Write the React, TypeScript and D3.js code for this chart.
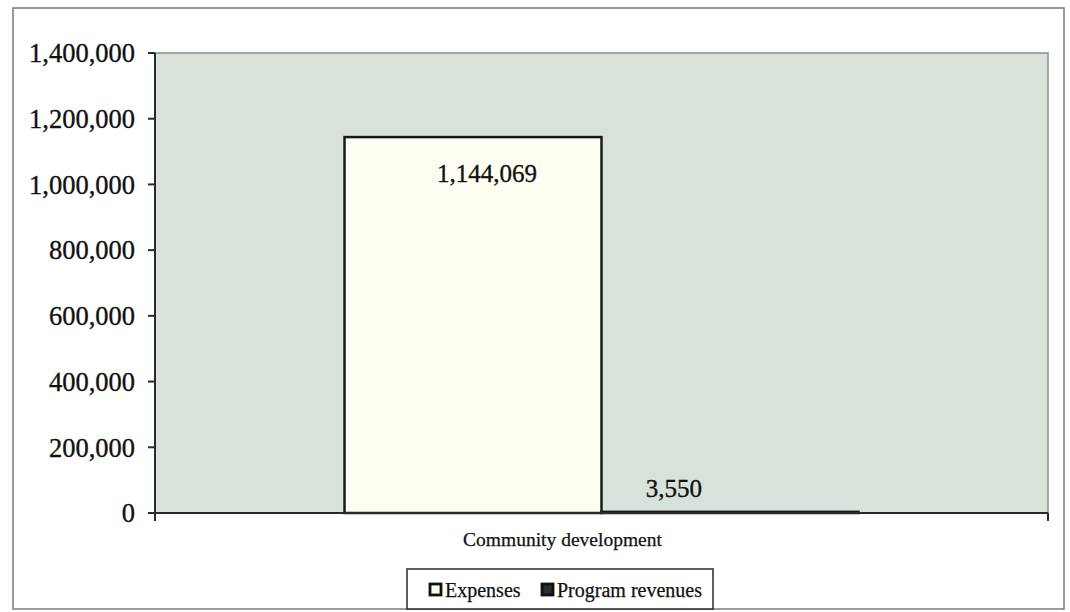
import * as d3 from "d3";

// values
const categories = ["Community development"];
const seriesNames = ["Expenses", "Program revenues"];
const expenses = [1144069];
const programRevenues = [3550];
const yTicks = [0, 200000, 400000, 600000, 800000, 1000000, 1200000, 1400000];

const W = 1070;
const H = 612;
const plot = { left: 155, top: 53, right: 1048, bottom: 513 };
const fonts = "'Liberation Serif', 'Times New Roman', serif";

const seriesFill = ["#fefef3", "#2e2e2e"];
// Excel-ish gap width between category groups
const gapWidth = 1.475;

// the scan's text is a bit heavier than a clean render
const ink = { fill: "#111", stroke: "#111", strokeWidth: 0.35 };

export default function App() {
  const y = d3
    .scaleLinear()
    .domain([0, d3.max(yTicks)!])
    .range([plot.bottom, plot.top]);

  const x0 = d3
    .scaleBand<string>()
    .domain(categories)
    .range([plot.left, plot.right]);

  const x1 = d3
    .scaleBand<string>()
    .domain(seriesNames)
    .range([0, x0.bandwidth()])
    .paddingInner(0)
    .paddingOuter(gapWidth / 2);

  const fmt = d3.format(",");
  const values = [expenses, programRevenues];

  // label nudges to match the scan (labels sit a bit off-centre there)
  const labelNudge = [14, -56];

  return (
    <svg
      width={W}
      height={H}
      style={{ position: "absolute", left: 0, top: 0, background: "#fff" }}
      fontFamily={fonts}
    >
      {/* chart frame */}
      <rect x={13} y={8} width={1051} height={601} fill="#fff" stroke="#7a7a7a" strokeWidth={1.5} />

      {/* plot area */}
      <rect
        x={plot.left}
        y={plot.top}
        width={plot.right - plot.left}
        height={plot.bottom - plot.top}
        fill="#d9e1db"
        stroke="#8c8c8c"
        strokeWidth={1.5}
      />

      {/* bars */}
      {categories.map((c, ci) =>
        seriesNames.map((s, si) => {
          const v = values[si][ci];
          const bx = x0(c)! + x1(s)!;
          const by = y(v);
          return (
            <rect
              key={c + s}
              x={bx}
              y={by}
              width={x1.bandwidth()}
              height={Math.max(plot.bottom - by, 1)}
              fill={seriesFill[si]}
              stroke="#1a1a1a"
              strokeWidth={2.5}
            />
          );
        })
      )}

      {/* data labels: inside end if the bar is tall, else above */}
      {categories.map((c, ci) =>
        seriesNames.map((s, si) => {
          const v = values[si][ci];
          const by = y(v);
          const tall = plot.bottom - by > 60;
          return (
            <text
              key={"l" + c + s}
              x={x0(c)! + x1(s)! + x1.bandwidth() / 2 + labelNudge[si]}
              y={tall ? by + 45 : by - 15}
              textAnchor="middle"
              fontSize={25}
              {...ink}
            >
              {fmt(v)}
            </text>
          );
        })
      )}

      {/* y axis */}
      <line x1={plot.left} x2={plot.left} y1={plot.top} y2={plot.bottom} stroke="#2a2a2a" strokeWidth={2} />
      {yTicks.map((t) => (
        <g key={t}>
          <line x1={plot.left - 7} x2={plot.left} y1={y(t)} y2={y(t)} stroke="#2a2a2a" strokeWidth={2} />
          <text x={135} y={y(t)} dy="0.35em" textAnchor="end" fontSize={26.5} {...ink}>
            {fmt(t)}
          </text>
        </g>
      ))}

      {/* x axis */}
      <line x1={plot.left} x2={plot.right} y1={plot.bottom} y2={plot.bottom} stroke="#2a2a2a" strokeWidth={2} />
      {[plot.left, plot.right].map((tx) => (
        <line key={tx} x1={tx} x2={tx} y1={plot.bottom} y2={plot.bottom + 8} stroke="#2a2a2a" strokeWidth={2} />
      ))}
      {categories.map((c) => (
        <text
          key={c}
          x={x0(c)! + x0.bandwidth() / 2 - 39}
          y={546}
          textAnchor="middle"
          fontSize={19.5}
          {...ink}
          strokeWidth={0.25}
        >
          {c}
        </text>
      ))}

      {/* legend */}
      <g>
        <rect x={407} y={569} width={306} height={40} fill="#fff" stroke="#2a2a2a" strokeWidth={1.5} />
        {seriesNames.map((s, i) => {
          const lx = i === 0 ? 429 : 541;
          return (
            <g key={s}>
              <rect x={lx + 1} y={584} width={11} height={11} fill={seriesFill[i]} stroke="#111" strokeWidth={2.8} />
              <text x={lx + 16} y={597} fontSize={20} {...ink} strokeWidth={0.25}>
                {s}
              </text>
            </g>
          );
        })}
      </g>
    </svg>
  );
}
